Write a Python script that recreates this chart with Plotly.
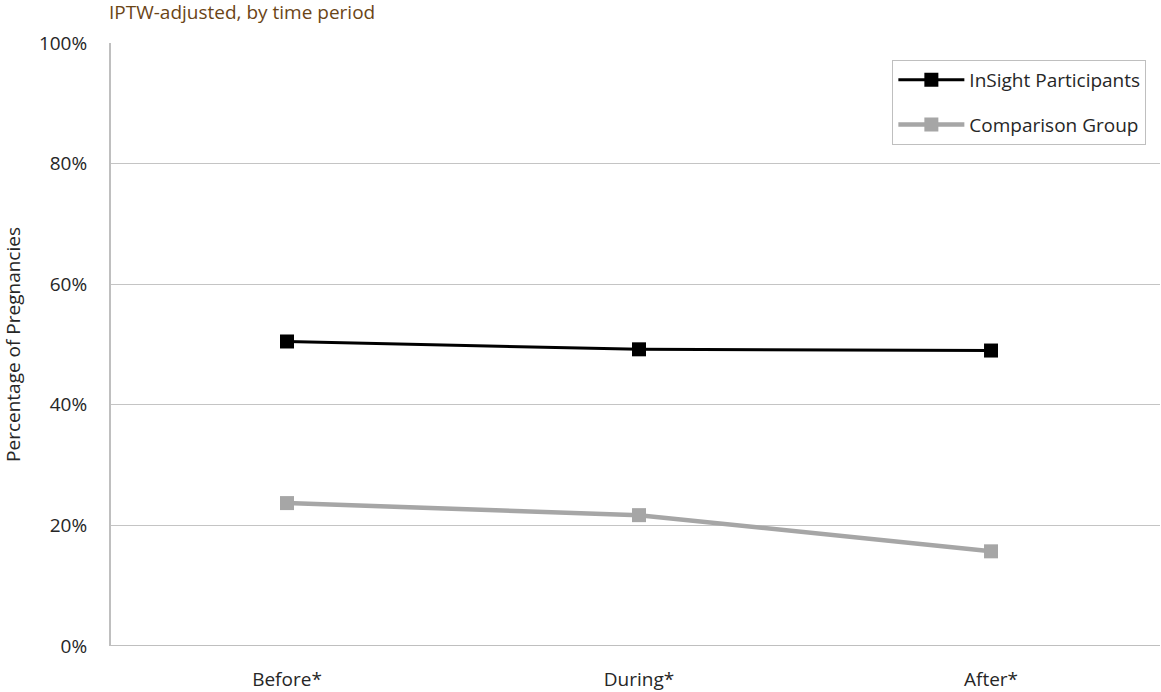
import plotly.graph_objects as go

# Time periods and IPTW-adjusted percentages of pregnancies
periods = ["Before*", "During*", "After*"]
insight = [50.5, 49.2, 49.0]
comparison = [23.7, 21.7, 15.7]

y_ticks = [0, 20, 40, 60, 80, 100]
y_tick_labels = ["0%", "20%", "40%", "60%", "80%", "100%"]

font_family = "Open Sans, Noto Sans, sans-serif"

fig = go.Figure()
fig.add_trace(go.Scatter(
    x=periods, y=insight, name="InSight Participants",
    mode="lines+markers", legendgroup="a",
    line=dict(color="#000000", width=3),
    marker=dict(symbol="square", size=14, color="#000000"),
))
fig.add_trace(go.Scatter(
    x=periods, y=comparison, name="Comparison Group",
    mode="lines+markers", legendgroup="b",
    line=dict(color="#a6a6a6", width=4.5),
    marker=dict(symbol="square", size=14, color="#a6a6a6"),
))

fig.update_layout(
    width=1161, height=692,
    margin=dict(l=111, r=1, t=43, b=46),
    plot_bgcolor="white", paper_bgcolor="white",
    font=dict(family=font_family, size=19, color="#262626"),
    showlegend=True,
    legend=dict(
        x=0.987, y=0.972, xanchor="right", yanchor="top",
        bordercolor="#bfbfbf", borderwidth=1,
        bgcolor="white",
        font=dict(size=19, color="#262626"),
        traceorder="grouped", tracegroupgap=17,
        itemwidth=66,
    ),
    xaxis=dict(
        range=[-0.5, 2.48],
        automargin=False,
        showgrid=False, zeroline=False,
        showline=False,
        ticks="outside", ticklen=16, tickcolor="rgba(0,0,0,0)",
        tickfont=dict(size=19),
    ),
    yaxis=dict(
        range=[0, 100],
        automargin=False,
        tickvals=y_ticks, ticktext=y_tick_labels,
        showgrid=True, gridcolor="#c4c4c4", gridwidth=1,
        zeroline=False,
        showline=True, linecolor="#bfbfbf", linewidth=2,
        ticks="outside", ticklen=18, tickcolor="rgba(0,0,0,0)",
        tickfont=dict(size=19),
        title=dict(text="Percentage of Pregnancies", font=dict(size=19), standoff=17),
    ),
    annotations=[dict(
        text="IPTW-adjusted, by time period",
        xref="paper", yref="paper", x=-0.004, y=1.0, yshift=16,
        xanchor="left", yanchor="bottom", showarrow=False,
        font=dict(size=19, color="#6b4516", family=font_family),
    )],
)

# bottom axis line at 0%
fig.add_shape(type="line", xref="paper", yref="y", x0=0, x1=1, y0=0, y1=0,
              line=dict(color="#bfbfbf", width=2))

fig.write_html("out.html")
